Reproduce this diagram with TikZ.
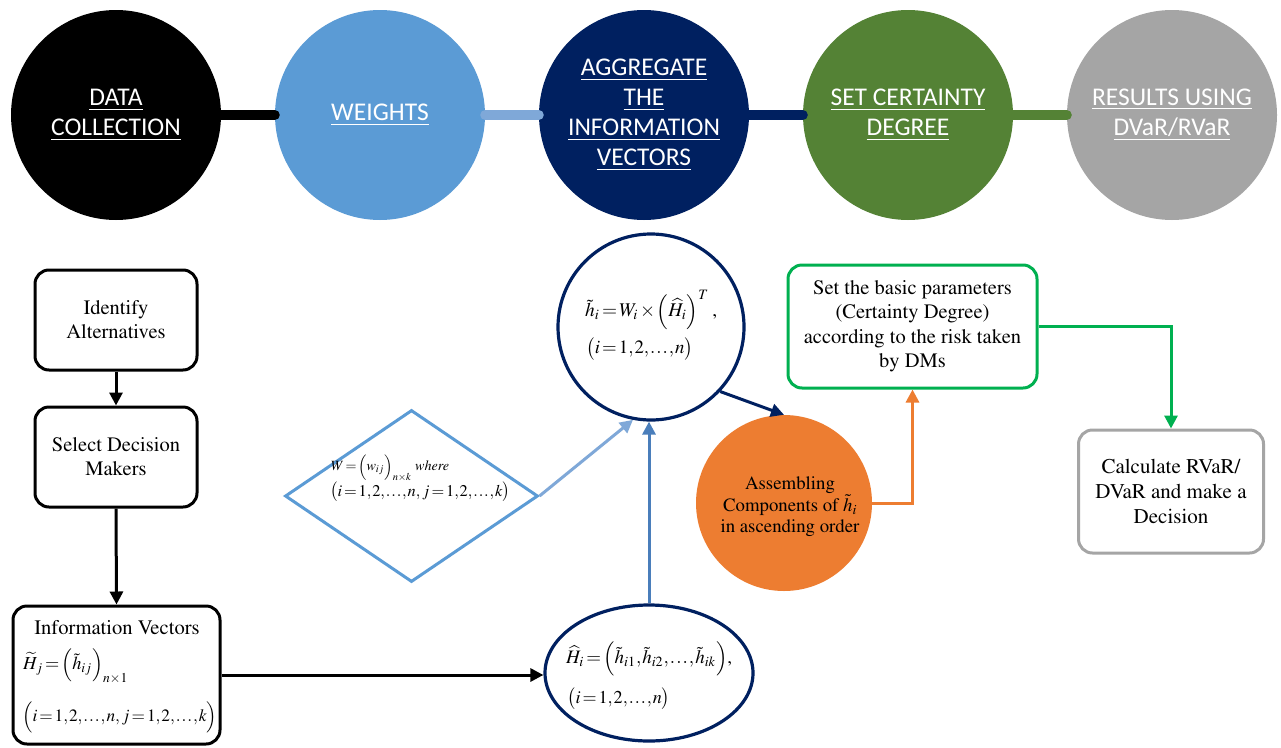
\documentclass[tikz,border=0pt]{standalone}
\usepackage{mathptmx}
\usepackage{fontspec}
\newfontfamily\calibri{Carlito}
\usepackage{graphicx}
\usetikzlibrary{shapes.geometric,arrows.meta}
\newcommand{\tms}{\usefont{T1}{ptm}{m}{n}}
\definecolor{navy}{HTML}{002060}
\definecolor{lblue}{HTML}{5B9BD5}
\definecolor{lbluebar}{HTML}{7FA8D8}
\definecolor{dgreen}{HTML}{548235}
\definecolor{lgray}{HTML}{A5A5A5}
\definecolor{orng}{HTML}{ED7D31}
\definecolor{bgreen}{HTML}{00B050}
\definecolor{steel}{HTML}{4A7EBB}
\newcommand{\fitw}[2]{\resizebox{#1}{!}{{\thickmuskip=2mu\medmuskip=1.5mu\thinmuskip=1mu #2}}}
\begin{document}
\begin{tikzpicture}[x=1pt,y=-1pt,
  topc/.style={circle, minimum size=210pt, inner sep=0pt, text=white, align=center, font=\calibri\fontsize{25.5}{30}\selectfont},
  bar/.style={line width=10pt, line cap=round},
  rbox/.style={draw, line width=3pt, rounded corners=14pt, inner sep=0pt, align=center, fill=white, font=\tms\fontsize{20.5}{24}\selectfont},
  arr/.style={line width=3pt, -{Triangle[length=13pt,width=13pt]}},
  mtxt/.style={inner sep=0pt, anchor=west, font=\tms},
  btxt/.style={inner sep=0pt, align=center, font=\tms\fontsize{18.8}{21.5}\selectfont}]
\fill[white] (0,0) rectangle (1281,747);
\useasboundingbox (0,0) rectangle (1281,747);

% top row
\node[topc, fill=black] (c1) at (116,115) {\underline{DATA}\\\underline{COLLECTION}};
\node[topc, fill=lblue] (c2) at (380,115) {\underline{WEIGHTS}};
\node[topc, fill=navy] (c3) at (644,115) {\underline{AGGREGATE}\\\underline{THE}\\\underline{INFORMATION}\\\underline{VECTORS}};
\node[topc, fill=dgreen] (c4) at (908,115) {\underline{SET CERTAINTY}\\\underline{DEGREE}};
\node[topc, fill=lgray] (c5) at (1172,115) {\underline{RESULTS USING}\\\underline{DVaR/RVaR}};
\draw[bar, black] (c1.east) -- (c2.west);
\draw[bar, lbluebar] (c2.east) -- (c3.west);
\draw[bar, navy] (c3.east) -- (c4.west);
\draw[bar, dgreen] (c4.east) -- (c5.west);

% left column
\node[rbox, minimum width=162pt, minimum height=100pt] (b1) at (116,320) {Identify\\Alternatives};
\node[rbox, minimum width=162pt, minimum height=100pt] (b2) at (116,457) {Select Decision\\Makers};
\node[rbox, minimum width=207pt, minimum height=138pt] (info) at (116.5,675) {};
\node[inner sep=0pt, font=\tms\fontsize{20.6}{24}\selectfont] (infoT) at (117,628) {Information Vectors};
\node[mtxt] (infoF) at (23,666) {\fitw{105pt}{$\widetilde{H}_j=\Bigl(\tilde{h}_{ij}\Bigr)_{n\times 1}$}};
\node[mtxt] (infoR) at (22,717) {\fitw{195pt}{$\Bigl(i=1,2,\ldots,n,\, j=1,2,\ldots,k\Bigr)$}};

% diamond
\node[draw=lblue, line width=3pt, diamond, minimum width=253pt, minimum height=172pt, inner sep=0pt] (dia) at (411.5,496) {};
\node[mtxt] (diaA) at (331,468) {\fitw{118pt}{$W=\Bigl(w_{ij}\Bigr)_{n\times k}$ \textit{where}}};
\node[mtxt] (diaB) at (330,492) {\fitw{180pt}{$\bigl(i=1,2,\ldots,n,\, j=1,2,\ldots,k\bigr)$}};

% formula circle and ellipse
\node[draw=navy, line width=3.2pt, circle, minimum size=186pt, fill=white, inner sep=0pt] (fc) at (651,327) {};
\node[mtxt] (fcA) at (585,310) {\fitw{132pt}{$\tilde{h}_i=W_i\times\Bigl(\widehat{H}_i\Bigr)^{T}$\,,}};
\node[mtxt] (fcB) at (586,349) {\fitw{107pt}{$\bigl(i=1,2,\ldots,n\bigr)$}};
\node[draw=navy, line width=3.2pt, ellipse, minimum width=208pt, minimum height=136pt, fill=white, inner sep=0pt] (ell) at (649,673) {};
\node[mtxt] (ellA) at (566,659) {\fitw{166pt}{$\widehat{H}_i=\Bigl(\tilde{h}_{i1},\tilde{h}_{i2},\ldots,\tilde{h}_{ik}\Bigr)$,}};
\node[mtxt] (ellB) at (567,699) {\fitw{103pt}{$\bigl(i=1,2,\ldots,n\bigr)$}};

% orange circle
\node[circle, fill=orng, minimum size=176pt, inner sep=0pt] (oc) at (784,503) {};
\node[btxt] (octxt) at (790,507) {Assembling\\Components of $\tilde{h}_i$\\in ascending order};

% green and gray boxes
\node[rbox, draw=bgreen, minimum width=249pt, minimum height=123pt, font=\tms\fontsize{20.5}{24.5}\selectfont] (gb) at (912.5,326.5) {Set the basic parameters\\(Certainty Degree)\\according to the risk taken\\by DMs};
\node[rbox, draw=lgray, minimum width=185pt, minimum height=123pt, font=\tms\fontsize{21}{25}\selectfont] (gy) at (1171,491.5) {Calculate RVaR/\\DVaR and make a\\Decision};

% connectors
\draw[arr] (b1.south) -- (b2.north);
\draw[arr] (b2.south) -- (info.north);
\draw[arr] (info.east) -- (info.east -| ell.west);
\draw[arr, color=steel] (ell.north) -- (ell.north |- fc.south);
\draw[arr, color=lbluebar] (dia.east) -- (fc.259);
\draw[arr, color=navy] (fc.317) -- (oc.north);
\draw[arr, color=orng] (oc.east) -| (gb.south);
\draw[arr, color=bgreen] (gb.east) -| (gy.north);
\end{tikzpicture}
\end{document}
